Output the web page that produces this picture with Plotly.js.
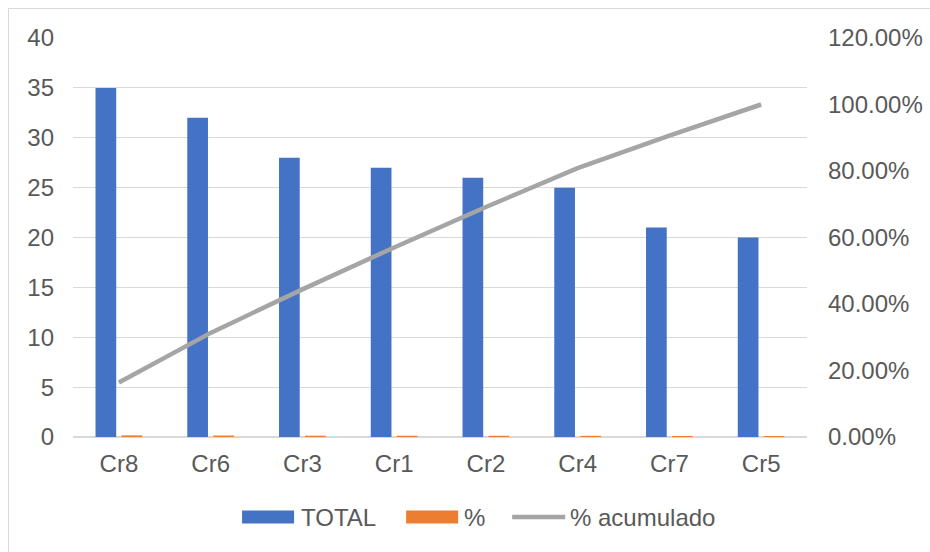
<!DOCTYPE html>
<html>
<head>
<meta charset="utf-8">
<script src="https://cdn.plot.ly/plotly-3.0.1.min.js"></script>
<style>
  html, body { margin: 0; padding: 0; background: #ffffff; }
  #chart { width: 930px; height: 552px; }
</style>
</head>
<body>
<div id="chart"></div>
<script>
// Pareto data
const categories = ['Cr8', 'Cr6', 'Cr3', 'Cr1', 'Cr2', 'Cr4', 'Cr7', 'Cr5'];
const totals = [35, 32, 28, 27, 26, 25, 21, 20];
const shares = [0.1636, 0.1495, 0.1308, 0.1262, 0.1215, 0.1168, 0.0981, 0.0935];
const cumulative = [0.1636, 0.3131, 0.4439, 0.5701, 0.6916, 0.8084, 0.9065, 1.0];
const seriesNames = ['TOTAL', '%', '% acumulado'];
const leftTicks = [0, 5, 10, 15, 20, 25, 30, 35, 40];
const rightTicks = [0, 0.2, 0.4, 0.6, 0.8, 1.0, 1.2];

const COLORS = { total: '#4472C4', share: '#ED7D31', cum: '#A5A5A5' };
const FONT = { family: 'Liberation Sans, Arial, sans-serif', size: 24, color: '#595959' };
const GRID = '#D9D9D9';

// plot area in pixels
const W = 930, H = 552;
const L = 73, R = 806.7, T = 38, B = 437;
const px = x => (x - L) / (R - L);
const py = y => (B - y) / (B - T);

const traces = [
  {
    type: 'bar', name: seriesNames[0], x: categories, y: totals,
    marker: { color: COLORS.total }, yaxis: 'y', hoverinfo: 'x+y'
  },
  {
    type: 'bar', name: seriesNames[1], x: categories, y: shares,
    marker: { color: COLORS.share }, yaxis: 'y', hoverinfo: 'x+y'
  },
  {
    type: 'scatter', mode: 'lines', name: seriesNames[2], x: categories, y: cumulative,
    line: { color: COLORS.cum, width: 4.5 }, yaxis: 'y2', hoverinfo: 'x+y'
  }
];

// legend drawn as shapes + text
const legendY = 517;
const legendItems = [
  { kind: 'rect', x0: 242, x1: 294, color: COLORS.total, textX: 299, label: seriesNames[0] },
  { kind: 'rect', x0: 406, x1: 458, color: COLORS.share, textX: 462, label: seriesNames[1] },
  { kind: 'line', x0: 512, x1: 565, color: COLORS.cum, textX: 568, label: seriesNames[2] }
];

const shapes = [
  // outer chart frame (left and top edges)
  { type: 'line', xref: 'paper', yref: 'paper', x0: px(8.5), x1: px(8.5), y0: py(8.5), y1: py(600),
    line: { color: GRID, width: 1 } },
  { type: 'line', xref: 'paper', yref: 'paper', x0: px(8.5), x1: px(1000), y0: py(8.5), y1: py(8.5),
    line: { color: GRID, width: 1 } }
];
const annotations = [];
legendItems.forEach(it => {
  if (it.kind === 'rect') {
    shapes.push({ type: 'rect', xref: 'paper', yref: 'paper',
      x0: px(it.x0), x1: px(it.x1), y0: py(legendY - 6.5), y1: py(legendY + 6.5),
      fillcolor: it.color, line: { width: 0 } });
  } else {
    shapes.push({ type: 'line', xref: 'paper', yref: 'paper',
      x0: px(it.x0), x1: px(it.x1), y0: py(legendY), y1: py(legendY),
      line: { color: it.color, width: 4.5 } });
  }
  annotations.push({ xref: 'paper', yref: 'paper', x: px(it.textX), y: py(legendY),
    xanchor: 'left', yanchor: 'middle', showarrow: false, text: it.label, font: FONT });
});

const layout = {
  width: W, height: H,
  margin: { l: L, r: W - R, t: T, b: H - B, pad: 0 },
  paper_bgcolor: '#ffffff', plot_bgcolor: '#ffffff',
  font: FONT,
  showlegend: false,
  barmode: 'group',
  bargap: 0.433,
  bargroupgap: 0.204,
  xaxis: {
    type: 'category', range: [-0.5, categories.length - 0.5],
    showgrid: false, zeroline: false, showline: false, ticks: '',
    tickfont: FONT, ticklabelstandoff: 10, fixedrange: true
  },
  yaxis: {
    range: [0, 40], tickvals: leftTicks, ticktext: leftTicks.map(String),
    showgrid: true, gridcolor: GRID, gridwidth: 1,
    zeroline: true, zerolinecolor: GRID, zerolinewidth: 1.5,
    showline: false, ticks: '', tickfont: FONT, ticklabelstandoff: 18, fixedrange: true
  },
  yaxis2: {
    overlaying: 'y', side: 'right', range: [0, 1.2],
    tickvals: rightTicks, tickformat: '.2%',
    showgrid: false, zeroline: false, showline: false, ticks: '',
    tickfont: FONT, ticklabelstandoff: 20, fixedrange: true
  },
  shapes: shapes,
  annotations: annotations
};

Plotly.newPlot('chart', traces, layout, { displayModeBar: false, staticPlot: true });
</script>
</body>
</html>
